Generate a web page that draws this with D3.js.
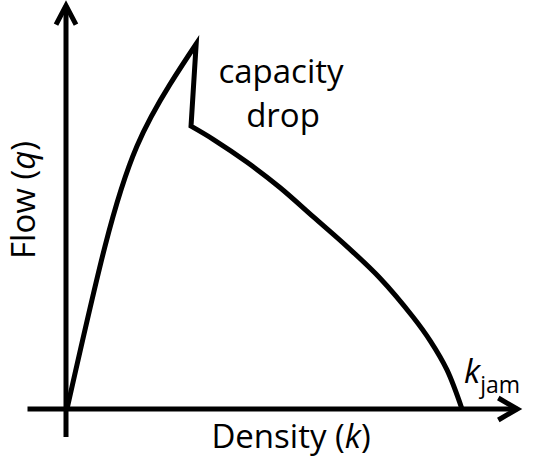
<!DOCTYPE html>
<html>
<head>
<meta charset="utf-8">
<script src="https://cdn.jsdelivr.net/npm/d3@7"></script>
<style>
  body { margin: 0; background: #fff; }
  text { font-family: "Open Sans", "Noto Sans", sans-serif; fill: #000; }
</style>
</head>
<body>
<div id="chart"></div>
<script>
// free-flow branch (density k, flow q), peak = capacity
var risingK = [0, 9.6, 17.7, 26.1, 32.7];
var risingQ = [0, 44.5, 72.0, 89.0, 100];

// congested branch after the capacity drop, down to k_jam
var congestedK = [31.4, 37.0, 45.6, 53.9, 62.3, 70.9, 79.2, 87.6, 92.0, 96.2, 100];
var congestedQ = [77.5, 73.9, 67.6, 60.7, 52.7, 44.5, 35.9, 25.2, 18.6, 10.7, 0];

var axisK = [-10, 114];
var axisQ = [-7.7, 110.5];

var width = 550, height = 463;

var svg = d3.select("#chart")
  .append("svg")
  .attr("width", width)
  .attr("height", height);

var x = d3.scaleLinear().domain([0, 100]).range([67, 462]);
var y = d3.scaleLinear().domain([0, 100]).range([409, 44]);

var riseLine = d3.line()
  .x(function(d) { return x(d[0]); })
  .y(function(d) { return y(d[1]); })
  .curve(d3.curveNatural);

var line = d3.line()
  .x(function(d) { return x(d[0]); })
  .y(function(d) { return y(d[1]); })
  .curve(d3.curveCatmullRom.alpha(0.5));

var rising = risingK.map(function(k, i) { return [k, risingQ[i]]; });
var congested = congestedK.map(function(k, i) { return [k, congestedQ[i]]; });

// axes
var axes = svg.append("g")
  .attr("stroke", "#000")
  .attr("stroke-width", 5)
  .attr("fill", "none");

axes.append("line")
  .attr("x1", x(axisK[0])).attr("x2", x(axisK[1]))
  .attr("y1", y(0)).attr("y2", y(0));

axes.append("line")
  .attr("x1", x(0) - 1).attr("x2", x(0) - 1)
  .attr("y1", y(axisQ[0])).attr("y2", y(axisQ[1]));

// arrow heads
var xt = [x(axisK[1]), y(0)];
axes.append("path")
  .attr("stroke-linejoin", "miter")
  .attr("d", "M" + (xt[0] - 19) + "," + (xt[1] - 11) + "L" + xt[0] + "," + xt[1] + "L" + (xt[0] - 19) + "," + (xt[1] + 11));

var yt = [x(0) - 1, y(axisQ[1])];
axes.append("path")
  .attr("stroke-linejoin", "miter")
  .attr("d", "M" + (yt[0] - 10) + "," + (yt[1] + 19) + "L" + yt[0] + "," + yt[1] + "L" + (yt[0] + 10) + "," + (yt[1] + 19));

// curve: rising branch, straight drop, congested branch joined into one path
var pd = riseLine(rising)
  + "L" + x(congested[0][0]) + "," + y(congested[0][1])
  + line(congested).replace(/^M[^A-Za-z]*/, "");

svg.append("path")
  .attr("d", pd)
  .attr("fill", "none")
  .attr("stroke", "#000")
  .attr("stroke-width", 5)
  .attr("stroke-linejoin", "miter");

// labels
svg.append("text")
  .attr("x", 281).attr("y", 83)
  .attr("text-anchor", "middle")
  .attr("font-size", 33)
  .text("capacity");

svg.append("text")
  .attr("x", 283).attr("y", 127)
  .attr("text-anchor", "middle")
  .attr("font-size", 33)
  .text("drop");

var xl = svg.append("text")
  .attr("x", 291).attr("y", 448)
  .attr("text-anchor", "middle")
  .attr("font-size", 33);
xl.append("tspan").text("Density (");
xl.append("tspan").attr("font-style", "italic").text("k");
xl.append("tspan").text(")");

var yl = svg.append("text")
  .attr("transform", "translate(35,200) rotate(-90)")
  .attr("text-anchor", "middle")
  .attr("font-size", 33);
yl.append("tspan").text("Flow (");
yl.append("tspan").attr("font-style", "italic").text("q");
yl.append("tspan").text(")");

var kj = svg.append("text")
  .attr("x", 464).attr("y", 383)
  .attr("font-size", 33);
kj.append("tspan").attr("font-style", "italic").text("k");
kj.append("tspan").attr("font-size", 23).attr("dy", 10).text("jam");
</script>
</body>
</html>
